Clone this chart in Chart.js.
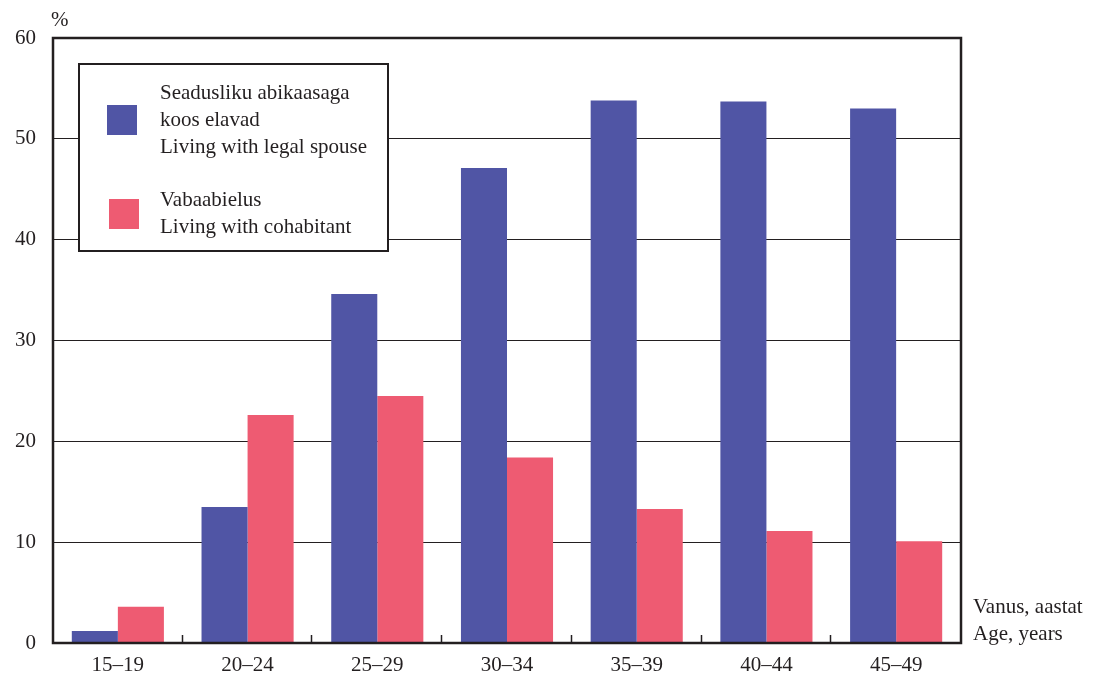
<!DOCTYPE html>
<html>
<head>
<meta charset="utf-8">
<script src="https://cdn.jsdelivr.net/npm/chart.js@4/dist/chart.umd.min.js"></script>
<style>
  html, body { margin: 0; padding: 0; background: #fff; }
  #wrap { width: 1094px; height: 682px; position: relative; }
</style>
</head>
<body>
<div id="wrap"><canvas id="c" width="1094" height="682"></canvas></div>
<script>
const ageGroups = ['15–19', '20–24', '25–29', '30–34', '35–39', '40–44', '45–49'];
const legalSpouse = [1.2, 13.5, 34.6, 47.1, 53.8, 53.7, 53.0];
const cohabitant = [3.6, 22.6, 24.5, 18.4, 13.3, 11.1, 10.1];
const seriesLabels = [
  ['Seadusliku abikaasaga', 'koos elavad', 'Living with legal spouse'],
  ['Vabaabielus', 'Living with cohabitant']
];
const yTicks = [0, 10, 20, 30, 40, 50, 60];
const xTitle = ['Vanus, aastat', 'Age, years'];

const BLUE = '#5055a5';
const RED = '#ee5b72';
const INK = '#231f20';
const FONT = '"Liberation Serif", "Times New Roman", serif';
const FS = 21;

// frame, inner tick marks, unit label, axis title, legend box
const decor = {
  id: 'decor',
  afterDatasetsDraw(chart) {
    const { ctx, chartArea: a } = chart;
    const x = chart.scales.x;
    ctx.save();
    ctx.strokeStyle = INK;
    ctx.lineWidth = 1.5;
    for (let i = 1; i < ageGroups.length; i++) {
      const px = Math.round((x.getPixelForValue(i - 1) + x.getPixelForValue(i)) / 2) - 0.5;
      ctx.beginPath();
      ctx.moveTo(px, a.bottom);
      ctx.lineTo(px, a.bottom - 8);
      ctx.stroke();
    }
    ctx.lineWidth = 2.5;
    ctx.strokeRect(a.left, a.top, a.right - a.left, a.bottom - a.top);

    ctx.fillStyle = INK;
    ctx.font = FS + 'px ' + FONT;
    ctx.textBaseline = 'middle';
    ctx.textAlign = 'left';
    ctx.fillText('%', 51, 20);
    xTitle.forEach((t, i) => ctx.fillText(t, 973, 607 + i * 27));

    // legend
    ctx.fillStyle = '#fff';
    ctx.fillRect(79, 64, 309, 187);
    ctx.lineWidth = 2;
    ctx.strokeRect(79, 64, 309, 187);
    ctx.fillStyle = BLUE;
    ctx.fillRect(107, 105, 30, 30);
    ctx.fillStyle = RED;
    ctx.fillRect(109, 199, 30, 30);
    ctx.fillStyle = INK;
    seriesLabels[0].forEach((t, i) => ctx.fillText(t, 160, 93 + i * 27));
    seriesLabels[1].forEach((t, i) => ctx.fillText(t, 160, 200 + i * 27));
    ctx.restore();
  }
};

new Chart(document.getElementById('c'), {
  type: 'bar',
  data: {
    labels: ageGroups,
    datasets: [
      { label: seriesLabels[0].join(' '), data: legalSpouse, backgroundColor: BLUE, borderWidth: 0 },
      { label: seriesLabels[1].join(' '), data: cohabitant, backgroundColor: RED, borderWidth: 0 }
    ]
  },
  options: {
    responsive: false,
    animation: false,
    devicePixelRatio: 1,
    layout: { padding: { top: 38, right: 133, bottom: 0, left: 0 } },
    datasets: { bar: { categoryPercentage: 0.71, barPercentage: 1.0 } },
    plugins: { legend: { display: false }, tooltip: { enabled: false } },
    scales: {
      x: {
        grid: { display: false, drawTicks: false },
        border: { display: false },
        ticks: { color: INK, font: { family: FONT, size: FS }, padding: 10 },
        afterFit(s) { s.height = 39; }
      },
      y: {
        min: 0,
        max: 60,
        afterBuildTicks(s) { s.ticks = yTicks.map(v => ({ value: v })); },
        grid: { color: INK, lineWidth: 1, drawTicks: false },
        border: { display: false },
        ticks: { color: INK, font: { family: FONT, size: FS }, padding: 17 },
        afterFit(s) { s.width = 53; }
      }
    }
  },
  plugins: [decor]
});
</script>
</body>
</html>
